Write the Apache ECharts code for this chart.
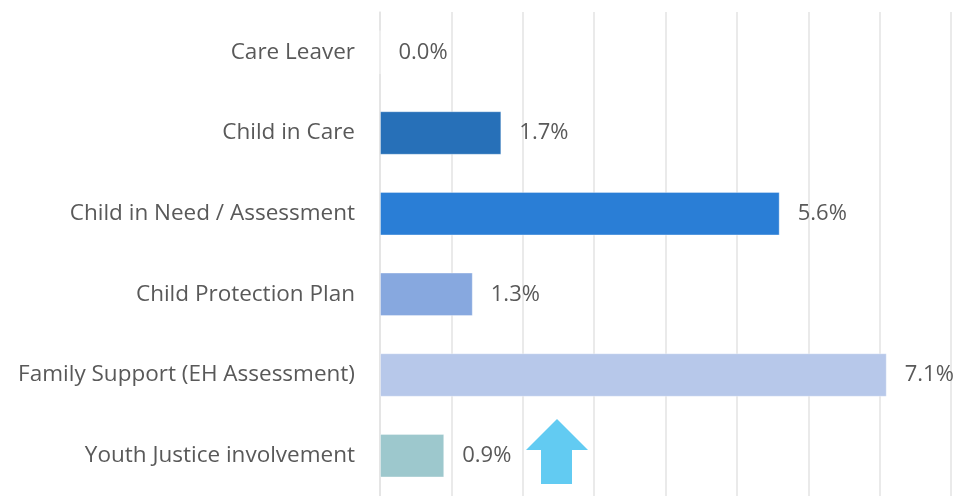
<!DOCTYPE html>
<html>
<head>
<meta charset="utf-8">
<script src="https://cdn.jsdelivr.net/npm/echarts@6/dist/echarts.min.js"></script>
<style>
  html, body { margin: 0; padding: 0; background: #fff; }
  #chart { width: 957px; height: 496px; }
</style>
</head>
<body>
<div id="chart"></div>
<script>
const categories = [
  "Care Leaver",
  "Child in Care",
  "Child in Need / Assessment",
  "Child Protection Plan",
  "Family Support (EH Assessment)",
  "Youth Justice involvement",
];
const values = [0.0, 1.7, 5.6, 1.3, 7.1, 0.9];
const barColors = ["#2770b8", "#2770b8", "#2a7ed6", "#87a8df", "#b7c8ea", "#9dc8cd"];

let myChart = echarts.init(document.getElementById("chart"));
let option = {
  animation: false,
  grid: {
    left: 380,
    right: 6,
    top: 12,
    bottom: 0,
    containLabel: false,
  },
  xAxis: {
    type: "value",
    min: 0,
    max: 8,
    interval: 1,
    axisLabel: { show: false },
    axisLine: { show: false },
    axisTick: { show: false },
    splitLine: {
      show: true,
      lineStyle: { color: "#e3e3e3", width: 1.5 },
    },
  },
  yAxis: {
    type: "category",
    data: categories,
    inverse: true,
    axisTick: { show: false },
    axisLine: { show: true, lineStyle: { color: "#e3e3e3", width: 1.5 } },
    axisLabel: {
      margin: 25,
      color: "#595959",
      fontFamily: "Open Sans",
      fontSize: 22.5,
    },
  },
  series: [
    {
      type: "bar",
      data: values.map((v, i) => ({ value: v, itemStyle: { color: barColors[i] } })),
      barWidth: "54%",
      itemStyle: {
        borderColor: "rgba(255,255,255,0.35)",
        borderWidth: 1,
      },
      label: {
        show: true,
        position: "right",
        distance: 18,
        color: "#595959",
        fontFamily: "Open Sans",
        fontSize: 22,
        formatter: (p) => p.value.toFixed(1) + "%",
      },
    },
  ],
  // 上箭头标注
  graphic: [
    {
      type: "polygon",
      shape: {
        points: [
          [557, 419], [588, 450], [572, 450], [572, 484],
          [541, 484], [541, 450], [526, 450],
        ],
      },
      style: { fill: "#62cbf2" },
    },
  ],
};
option && myChart.setOption(option);
</script>
</body>
</html>
